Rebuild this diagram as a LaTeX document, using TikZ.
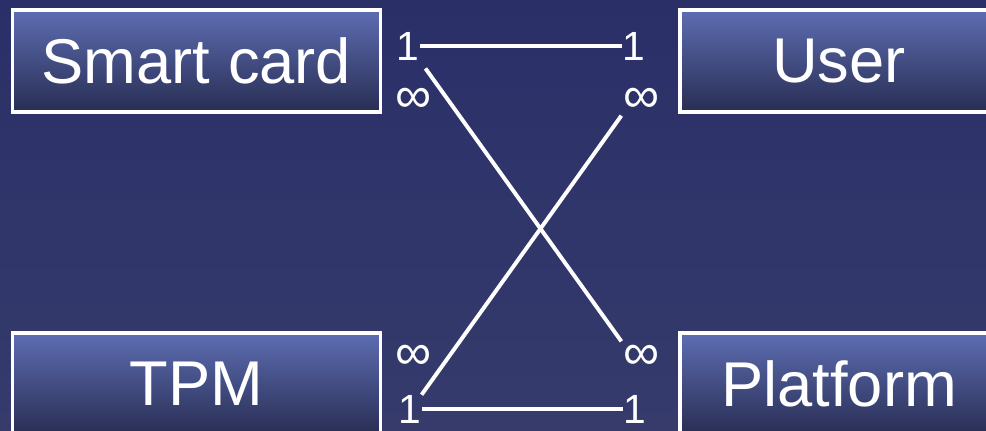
\documentclass[tikz,border=0pt]{standalone}
\usepackage{fontspec}
\setmainfont{Liberation Sans}
\usetikzlibrary{positioning}
\definecolor{bgtop}{RGB}{42,47,104}
\definecolor{bgbot}{RGB}{54,59,108}
\definecolor{boxtop}{RGB}{93,109,178}
\definecolor{boxbot}{RGB}{40,45,82}
\tikzset{
  entity/.style={rectangle, draw=white, line width=2.2pt,
    top color=boxtop, bottom color=boxbot, text=white,
    minimum height=2.55cm, font=\fontsize{45}{52}\selectfont},
  mult/.style={text=white, inner sep=0pt, font=\fontsize{29}{32}\selectfont},
  many/.style={mult, font=\fontsize{36}{40}\selectfont},
  link/.style={white, line width=2.8pt}
}

\begin{document}
\begin{tikzpicture}[x=0.025cm, y=-0.025cm]
  \fill[top color=bgtop, bottom color=bgbot] (0,0) rectangle (986,430);
  \useasboundingbox (0,0) rectangle (986,430);
  \clip (0,0) rectangle (986,430);
  % entities
  \node[entity, minimum width=9.175cm] (smart) at (196.5,61) {Smart card};
  \node[entity, minimum width=7.95cm] (user) at (839,61) {User};
  \node[entity, minimum width=9.175cm] (tpm) at (196.5,384) {TPM};
  \node[entity, minimum width=7.95cm] (platform) at (839,384) {Platform};
  % multiplicities
  \node[mult] (sc1) at (408,46) {1};
  \node[mult] (us1) at (634,46) {1};
  \node[many] (scinf) at (414,100) {∞};
  \node[many] (usinf) at (642,100) {∞};
  \node[many] (tpminf) at (414,357) {∞};
  \node[many] (plinf) at (642,357) {∞};
  \node[mult] (tpm1) at (410,409) {1};
  \node[mult] (pl1) at (635,409) {1};
  % links
  \draw[link] (sc1) -- (us1);
  \draw[link] (tpm1) -- (pl1);
  \draw[link, shorten <=0.25cm, shorten >=0.1cm] (sc1.south east) -- (plinf.north west);
  \draw[link, shorten >=0.1cm] (tpm1.north east) -- (usinf.south west);
\end{tikzpicture}
\end{document}
